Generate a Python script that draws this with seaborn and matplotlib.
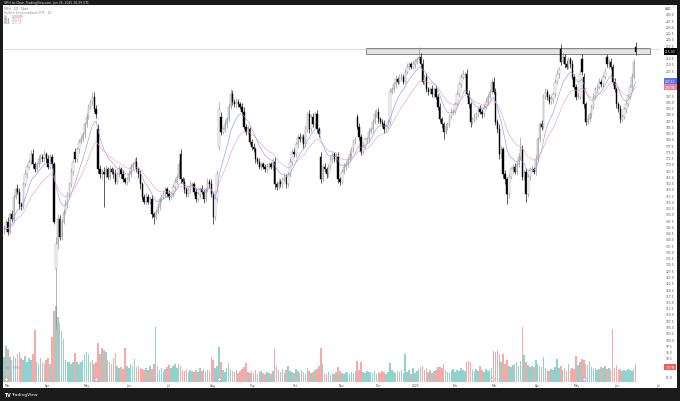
import numpy as np
import pandas as pd
import seaborn as sns
import matplotlib.pyplot as plt
from matplotlib.patches import Rectangle
from matplotlib import transforms

# daily closes (price units of the right scale)
closes = [
    144, 147, 143, 150, 148, 157, 160, 159, 154, 153,
    162, 166, 169, 171, 174, 170, 168, 170, 172, 173,
    172, 174, 172, 169, 173, 170, 147, 138, 148, 141,
    147, 151, 154, 158, 162, 167, 171, 172, 176, 179,
    180, 182, 186, 189, 193, 195, 197, 192, 190, 168,
    166, 167, 166, 168, 165, 168, 167, 166, 163, 166,
    168, 166, 164, 163, 164, 166, 169, 170, 171, 168,
    166, 162, 157, 155, 157, 155, 156, 150, 149, 151,
    153, 156, 157, 158, 160, 158, 157, 158, 161, 163,
    165, 170, 164, 163, 160, 158, 160, 162, 162, 159,
    156, 158, 160, 159, 156, 160, 163, 162, 158, 149,
    156, 166, 192, 183, 184, 186, 188, 193, 198, 195,
    194, 195, 194, 193, 191, 185, 183, 184, 179, 177,
    176, 172, 171, 169, 170, 169, 168, 169, 170, 169,
    171, 162, 161, 163, 162, 164, 165, 162, 166, 171,
    175, 174, 178, 181, 180, 181, 178, 184, 190, 184,
    189, 186, 190, 184, 182, 164, 169, 168, 166, 169,
    172, 174, 172, 173, 164, 163, 167, 169, 170, 172,
    174, 176, 179, 180, 185, 181, 175, 177, 180, 180,
    183, 184, 187, 190, 191, 188, 187, 186, 184, 185,
    187, 199, 200, 202, 204, 203, 205, 205, 203, 207,
    209, 210, 209, 210, 211, 212, 213, 210, 203, 205,
    200, 199, 200, 198, 200, 197, 193, 188, 186, 183,
    185, 186, 189, 191, 191, 194, 198, 202, 205, 206,
    206, 198, 194, 187, 188, 189, 190, 192, 191, 190,
    193, 195, 197, 199, 203, 199, 187, 184, 174, 176,
    166, 164, 158, 165, 168, 169, 167, 170, 173, 176,
    165, 167, 158, 165, 168, 168, 167, 172, 180, 186,
    185, 197, 199, 197, 195, 196, 198, 203, 206, 208,
    211, 213, 210, 209, 212, 210, 205, 201, 197, 197,
    206, 207, 194, 187, 188, 190, 193, 197, 200, 201,
    203, 202, 205, 207, 210, 211, 209, 203, 200, 194,
    192, 188, 189, 192, 194, 197, 201, 205, 211, 215,
]

# sessions that opened away from the prior close
open_gaps = {27: 128, 37: 175, 49: 184, 92: 174, 112: 177, 113: 189,
             165: 173, 184: 189, 290: 216, 301: 212, 302: 205, 314: 213,
             329: 217}

wick_up = [
    1.5, 1, 2, 1, 1.5, 1, 1, 2, 1.5, 1, 1, 1.5, 1, 1, 1.5, 2, 1, 1, 1.5, 1, 1, 1.5, 1, 1.5, 1, 1, 1, 3, 2, 1.5,
    1, 1, 1.5, 1, 1, 1.5, 1, 1.5, 1, 1, 1.5, 1, 1, 1.5, 1, 1, 2, 2, 1.5, 2, 1.5, 1, 2, 1.5, 1, 1.5, 1, 1.5, 2, 1,
    1.5, 1, 1.5, 1, 1, 1.5, 1, 1, 1.5, 2, 1, 1.5, 1, 1, 1.5, 1, 1, 1.5, 1, 1, 1.5, 1, 1, 1.5, 1, 1, 1.5, 1, 1, 1.5,
    1, 1.5, 2, 1, 1.5, 1, 1, 1.5, 1, 1, 1.5, 1, 1, 1.5, 1, 1, 1.5, 1, 2, 1, 1.5, 1.5, 3, 2, 1, 1.5, 1, 1.5, 2, 1.5,
    1, 1.5, 1, 1, 1.5, 2, 1, 1.5, 1, 1, 1.5, 1, 1, 1.5, 1, 1, 1, 1.5, 1, 1, 1.5, 2, 1, 1.5, 1, 1, 1.5, 1, 1, 1.5,
    1, 1.5, 1, 1, 1.5, 1, 1, 1.5, 1, 1.5, 1, 1.5, 1, 1.5, 1, 2, 1, 1.5, 1, 1, 1.5, 1, 1, 1.5, 2, 1, 1, 1.5, 1, 1,
    1.5, 1, 1, 1, 1, 1.5, 1, 1.5, 1, 1, 1.5, 1, 1, 1.5, 1, 1.5, 1, 1, 1.5, 1, 1, 1.5, 1, 1, 1.5, 1, 1, 1.5, 1, 1,
    1.5, 1, 1, 1.5, 1, 1, 4, 1.5, 2, 1, 1.5, 1, 1, 1.5, 1, 1.5, 1, 1.5, 1, 1, 1.5, 1, 1, 1.5, 1, 1, 1.5, 1, 1, 1.5,
    1, 2, 1.5, 1, 1, 1.5, 1, 1, 1.5, 1, 1, 1.5, 1, 1, 1.5, 2, 1.5, 1, 2, 1.5, 1, 1.5, 1, 1.5, 1, 1, 1.5, 1, 1.5, 5,
    1.5, 1, 1.5, 1, 1, 1.5, 1, 1.5, 1, 1, 1.5, 1, 1.5, 1, 1, 1.5, 1, 1, 1.5, 1, 2, 1.5, 1, 1.5, 1, 1, 1.5, 1, 1, 1.5,
    1.5, 2, 1.5, 1, 1.5, 1, 1, 1.5, 1, 1, 1.5, 1, 1, 1.5, 1, 1, 1.5, 1, 1.5, 1, 1, 1.5, 1, 1, 1.5, 1, 1, 1.5, 1, 2,
]

wick_dn = [
    2, 1, 1.5, 1, 1, 1.5, 1, 1, 2, 1.5, 1, 1, 1.5, 1, 1, 1.5, 1, 1, 1, 1.5, 1, 1, 1.5, 1, 1, 1.5, 1, 24, 2, 1.5,
    1.5, 1, 1, 1.5, 1, 1, 1.5, 1, 1, 1.5, 1, 1, 1.5, 1, 1, 1, 1.5, 1, 1.5, 1.5, 1.5, 2, 13, 1.5, 1, 1.5, 1, 1.5, 1, 1,
    1, 1.5, 1, 1, 1.5, 1, 1, 1.5, 1, 1, 1.5, 2, 1.5, 1, 1.5, 1, 1, 1.5, 3, 1.5, 1, 1.5, 1, 1, 1.5, 1, 1.5, 1, 1, 1.5,
    1, 1, 1.5, 1, 1.5, 1, 1, 1.5, 1, 1.5, 1, 1, 1.5, 1, 1.5, 1, 1, 1.5, 1, 3, 1.5, 1, 1.5, 1.5, 1, 1, 1.5, 1, 1, 1.5,
    1, 1.5, 1, 1, 1.5, 1, 1.5, 1, 1, 1.5, 1, 1.5, 1, 1, 1.5, 1, 1, 1.5, 1, 1, 1.5, 2, 1.5, 1, 1, 1.5, 1, 1.5, 1, 1,
    1.5, 1, 1, 1.5, 1, 1, 1.5, 1, 1, 1.5, 1, 1, 1.5, 1, 1, 1.5, 1, 1, 1.5, 1, 1, 1.5, 1, 1, 1.5, 1.5, 1, 1, 1.5, 1,
    1, 1.5, 1, 1, 1, 1.5, 1.5, 1, 1, 1.5, 1, 1, 1.5, 1, 1, 1.5, 1, 1, 1.5, 1, 1, 1.5, 1, 1, 1.5, 1, 1, 1.5, 1, 1,
    1, 1.5, 1, 1, 1.5, 1, 1, 1.5, 1, 1.5, 1, 1.5, 1, 1, 1.5, 1, 1.5, 1, 1.5, 3, 1, 1.5, 1, 1, 1.5, 1, 1, 1, 1.5, 1,
    1.5, 1, 1.5, 2, 1, 1, 1.5, 1, 1, 1.5, 1, 1, 1.5, 1, 1, 1, 1.5, 1.5, 2, 1.5, 1.5, 2, 4, 1.5, 1, 1.5, 1, 1.5, 1, 1.5,
    1.5, 1.5, 3, 1, 1.5, 1, 1, 1.5, 1, 1, 1.5, 1, 1, 1.5, 1, 1, 1.5, 1, 1, 1.5, 1.5, 1, 1.5, 1, 1, 1.5, 1, 1, 1.5, 1,
    1, 1.5, 1.5, 1.5, 1, 1, 1.5, 1, 1, 1.5, 1, 1, 1.5, 1, 1, 1.5, 1, 1.5, 1, 1.5, 1, 1.5, 1, 1, 1.5, 1, 1, 1.5, 1, 1.5,
]

# volume in millions
volume_m = [
    12.5, 18, 16.5, 12.5, 11, 13, 12, 14, 15, 12,
    11, 13, 10, 12, 11, 14, 26, 10, 9, 12,
    10, 9, 11, 12, 9, 22.5, 35.5, 38, 32.5, 29.5,
    25.5, 21.5, 11, 10, 10, 9, 10, 14.5, 10, 9,
    10, 11, 14, 15, 14, 10, 11, 9, 10, 19.5,
    14, 17, 16, 15, 11, 10, 9, 12, 14.5, 8,
    7, 7.5, 6.5, 17, 8, 7, 9, 8, 11.5, 7.5,
    8, 7, 6.5, 6, 7, 6, 8, 6.5, 9, 27.5,
    8, 6, 7, 5.5, 6.5, 7.5, 8.5, 7, 8, 9,
    7, 9, 8, 6, 5.5, 6.5, 5, 6, 5.5, 5,
    6, 5, 7, 5.5, 6.5, 5, 6, 5.5, 12.5, 11,
    7, 8, 17.5, 10, 6, 5, 7, 9.5, 6.5, 5.5,
    5, 6, 4.5, 5.5, 6.5, 7.5, 9.5, 5, 4.5, 5.5,
    4.5, 6, 4, 5, 5.5, 4.5, 4, 5, 4.5, 4,
    5.5, 17, 8, 6, 5, 6.5, 4.5, 6, 8, 5.5,
    5, 4.5, 6.5, 5.5, 4.5, 6, 5, 4, 7, 5.5,
    4.5, 5, 6, 6.5, 8, 17, 9, 4.5, 4, 5,
    3.5, 4.5, 4, 5, 7.5, 5.5, 4.5, 4, 5, 4.5,
    4, 5, 4.5, 5.5, 10.5, 6, 10, 5, 4.5, 5.5,
    5, 5, 4.5, 5.5, 4, 5, 4.5, 5.5, 5, 4,
    5, 9.5, 6, 5, 4.5, 5.5, 5, 6, 4.5, 14,
    5, 6, 4, 7, 4.5, 5.5, 6.5, 7.5, 8, 6,
    7, 5, 6, 4.5, 5.5, 6, 7.5, 7.5, 7, 9,
    6, 5, 4.5, 5.5, 6.5, 5, 6, 5.5, 7, 6,
    5.5, 10, 10.5, 10, 6, 5, 6.5, 5.5, 8, 6,
    5, 6.5, 5.5, 6, 7, 15.5, 15, 16, 14, 10,
    14, 9, 11, 8, 7.5, 8.5, 9, 10, 8, 10.5,
    27.5, 13.5, 10, 8.5, 7.5, 8, 7.5, 11, 9, 8,
    7.5, 12.5, 7, 6, 5.5, 6.5, 6, 7.5, 11.5, 7,
    8, 6, 7, 5.5, 9, 6, 7, 6.5, 13, 8.5,
    10, 11.5, 11, 9, 8.5, 10.5, 7.5, 6.5, 7, 6,
    6.5, 7.5, 7, 8, 6.5, 7, 6, 26.5, 7, 8.5,
    6, 6.5, 5.5, 6, 5.5, 6.5, 6, 5.5, 6.5, 9,
]

month_labels = ["Mar", "Apr", "May", "Jun", "Jul", "Aug", "Sep", "Oct", "Nov",
                "Dec", "2025", "Feb", "Mar", "Apr", "May", "Jun", "Jul"]
month_start = [1.6, 22.9, 43.2, 64.6, 85.4, 108.9, 129.7, 151.6, 176, 195.3,
               214.6, 234.9, 255.7, 278.1, 298.4, 318.8, 340.6]

# resistance zone drawn on the chart
zone_from, zone_to = 188.5, 336.5
zone_low, zone_high = 214.0, 216.4

# event badges on the time scale: bar index, colour
events = [(1, "#f77c80"), (48, "#a48cf5"), (112, "#9e9e9e"), (254, "#9e9e9e"), (302, "#a48cf5")]

n = len(closes)
idx = np.arange(n)
c = np.array(closes, dtype=float)
o = np.r_[c[0], c[:-1]].astype(float)
for k, v in open_gaps.items():
    o[k] = v
hi = np.maximum(o, c) + np.array(wick_up)
lo = np.minimum(o, c) - np.array(wick_dn)
up = c >= o

df = pd.DataFrame({"i": idx, "close": c})
df["ema10"] = df["close"].ewm(span=10, adjust=False).mean()
df["ema21"] = df["close"].ewm(span=21, adjust=False).mean()

sns.set_theme(style="white")
plt.rcParams["font.family"] = ["DejaVu Sans"]

W, H = 680, 402
fig = plt.figure(figsize=(W / 100, H / 100), dpi=100)
fig.patch.set_facecolor("#1b1b1b")


def fx(x):
    return x / W


def fy(y):
    return 1 - y / H


# white chart panel inside the dark frame
fig.add_artist(Rectangle((fx(3), fy(389)), fx(674), 383 / H, transform=fig.transFigure,
                         facecolor="white", edgecolor="none", zorder=-10))

ax = fig.add_axes([fx(3), fy(383), fx(657), 375 / H])
axv = ax.twinx()
ax.set_zorder(axv.get_zorder() + 1)
ax.patch.set_visible(False)
axv.patch.set_visible(False)

# volume
teal, red = "#92d2cc", "#f7a9a7"
axv.bar(idx, volume_m, width=0.82, color=np.where(up, teal, red), linewidth=0, zorder=1)
vol_top = 187.5
axv.set_ylim(0, vol_top)
axv.set_yticks([])

# resistance zone and last price line
ax.add_patch(Rectangle((zone_from, zone_low), zone_to - zone_from, zone_high - zone_low,
                       facecolor="#e4e4e4", edgecolor="#5a5a5a", linewidth=0.5, zorder=1))
ax.axhline(c[-1] + 1, color="#c4c4c4", linewidth=0.4, zorder=1)

# candles
edge = np.where(up, "#8c8c8c", "#000000")
fill = np.where(up, "#ffffff", "#000000")
ax.vlines(idx, lo, hi, colors=edge, linewidth=0.45, zorder=2)
body = np.maximum(np.abs(c - o), 0.2)
ax.bar(idx, body, bottom=np.minimum(o, c), width=0.72, color=fill, edgecolor=edge,
       linewidth=0.3, zorder=3)

# moving averages
blue, pink = "#8595f0", "#f29caf"
sns.lineplot(data=df, x="i", y="ema10", ax=ax, color=blue, linewidth=0.42, zorder=4)
sns.lineplot(data=df, x="i", y="ema21", ax=ax, color=pink, linewidth=0.42, zorder=4)

ymin, ymax = 82.8, 232.8
ax.set_xlim(-0.52, 341.7)
ax.set_ylim(ymin, ymax)
for a in (ax, axv):
    for s in a.spines.values():
        s.set_visible(False)
ax.set_xlabel("")
ax.set_ylabel("")

vol_ma = float(np.mean(volume_m[-20:]))
ema10_last = df["ema10"].iloc[-1]
ema21_last = df["ema21"].iloc[-1]
vol_tag_price = ymin + vol_ma / vol_top * (ymax - ymin)
tag_prices = [c[-1], ema10_last, ema21_last, vol_tag_price]

# price scale, with the labels hidden under the tags left out
ticks = np.arange(85, 230.1, 2.5)
ax.yaxis.tick_right()
ax.set_yticks(ticks)
ax.set_yticklabels(["" if min(abs(t - p) for p in tag_prices) < 2.2 else f"{t:.1f}"
                    for t in ticks])
ax.tick_params(axis="y", length=0, pad=4, labelsize=2.2, labelcolor="#555555")
ax.set_xticks(month_start)
ax.set_xticklabels(month_labels)
ax.tick_params(axis="x", length=0, pad=1.0, labelsize=2.2, labelcolor="#555555")

# tags on the price scale
tr = transforms.blended_transform_factory(ax.transAxes, ax.transData)
trv = transforms.blended_transform_factory(ax.transAxes, axv.transData)


def tag(y, text, color, transform, txt="white"):
    ax.text(1.0155, y, text, transform=transform, fontsize=2.2, color=txt, ha="center",
            va="center", clip_on=False, zorder=6,
            bbox=dict(boxstyle="square,pad=0.35", facecolor=color, edgecolor="none"))


tag(c[-1], f"{c[-1]:.2f}", "#000000", tr)
tag(ema10_last, f"{ema10_last:.2f}", "#5b73f0", tr)
tag(ema21_last, f"{ema21_last:.2f}", "#f07f96", tr)
tag(vol_ma, f"{vol_ma:.2f}M", "#f25a5a", trv)

# event badges
tb = transforms.blended_transform_factory(ax.transData, ax.transAxes)
for i, col in events:
    ax.scatter([i], [0.009], s=6, facecolor="white", edgecolor=col, linewidth=0.5,
               transform=tb, clip_on=False, zorder=6)

# texts around the panel
fig.text(fx(668), fy(9.5), "USD", fontsize=2.2, color="#333333", ha="center", va="center")
fig.text(fx(4), fy(3), "SMH on Cboe, TradingView.com, Jun 26, 2025 20:39 UTC",
         fontsize=2.2, color="#e6e6e6", va="center")
fig.text(fx(4), fy(9.5), "SMH · 1D · Cboe", fontsize=2.2, color="#777777", va="center")
fig.text(fx(4), fy(13), "VanEck Semiconductor ETF · 1D", fontsize=2.2, color="#888888", va="center")
legend_rows = [("Vol", f"{volume_m[-1]:.3f}M", "#f25a5a", 16.5),
               ("EMA", f"{ema10_last:.2f}", blue, 20),
               ("EMA", f"{ema21_last:.2f}", pink, 23.5)]
for name, val, col, yy in legend_rows:
    fig.text(fx(4), fy(yy), name, fontsize=2.2, color="#888888", va="center")
    fig.text(fx(12), fy(yy), val, fontsize=2.2, color=col, va="center")
fig.text(fx(5), fy(368), "Vol · SMH", fontsize=2.2, color="#8a98c4", va="center")
fig.text(fx(4), fy(395.5), "TV", fontsize=3.4, color="white", weight="bold", va="center")
fig.text(fx(11), fy(395.5), "TradingView", fontsize=3.2, color="white", va="center")

fig.savefig("out.png", dpi=100, facecolor=fig.get_facecolor())
